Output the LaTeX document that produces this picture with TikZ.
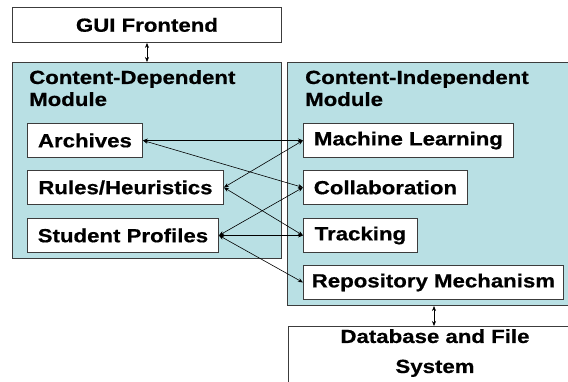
\documentclass[tikz,border=0pt]{standalone}
\usepackage{fontspec}
\setmainfont{Liberation Sans}[FakeStretch=1.17,BoldFeatures={FakeBold=0.6}]
\usetikzlibrary{arrows.meta}
\definecolor{modfill}{RGB}{185,224,228}
\definecolor{edge}{RGB}{60,60,60}
\begin{document}
\begin{tikzpicture}[x=1pt,y=-1pt,
  lbl/.style={font=\fontsize{19}{22}\selectfont\bfseries},
  modbox/.style={draw=edge,line width=1pt,fill=modfill},
  itembox/.style={draw=edge,line width=0.9pt,fill=white,inner sep=0pt,anchor=north west,
    font=\fontsize{19}{22}\selectfont\bfseries,minimum height=34pt},
  conn/.style={line width=0.6pt,{Stealth[length=5pt,width=4pt]}-{Stealth[length=5pt,width=4pt]}}
]
\useasboundingbox (0,0) rectangle (568,381);
\clip (0,0) rectangle (568,381);
% top box
\node[draw=edge,line width=0.9pt,fill=white,anchor=north west,minimum width=269pt,minimum height=35pt,inner sep=0pt,lbl] (gui) at (12,7) {GUI Frontend};
% modules
\node[modbox,anchor=north west,minimum width=269pt,minimum height=196pt,inner sep=0pt] (cdm) at (12,62) {};
\node[modbox,anchor=north west,minimum width=300pt,minimum height=243pt,inner sep=0pt] (cim) at (287,62) {};
\node[lbl,anchor=north west,align=left,inner sep=0pt] (cdt) at (29,70) {Content-Dependent\\Module};
\node[lbl,anchor=north west,align=left,inner sep=0pt] (cit) at (305,70) {Content-Independent\\Module};
% database
\node[draw=edge,line width=0.9pt,fill=white,anchor=north west,minimum width=295pt,minimum height=80pt,inner sep=0pt] (db) at (288,326) {};
\node[lbl,align=center,inner sep=0pt,anchor=north] (dbt) at (435,329) {Database and File\\[8pt]System};
% items left
\node[itembox,minimum width=115pt] (arch) at (27,123) {Archives};
\node[itembox,minimum width=196pt] (rules) at (27,170) {Rules/Heuristics};
\node[itembox,minimum width=191pt] (stud) at (27,218) {Student Profiles};
% items right
\node[itembox,minimum width=210pt] (ml) at (303,123) {Machine Learning};
\node[itembox,minimum width=164pt] (coll) at (303,170) {Collaboration};
\node[itembox,minimum width=114pt] (track) at (303,218) {Tracking};
\node[itembox,minimum width=260pt] (repo) at (303,265) {Repository Mechanism};
% connectors
\draw[conn] (arch.east) -- (ml.west);
\draw[conn] (arch.east) -- (coll.west);
\draw[conn] (rules.east) -- (ml.west);
\draw[conn] (rules.east) -- (track.west);
\draw[conn] (stud.east) -- (coll.west);
\draw[conn] (stud.east) -- (track.west);
\draw[conn] (stud.east) -- (repo.west);
\draw[conn] (gui.south -| 147,0) -- (cdm.north -| 147,0);
\draw[conn] (cim.south -| 434,0) -- (db.north -| 434,0);
\end{tikzpicture}
\end{document}
